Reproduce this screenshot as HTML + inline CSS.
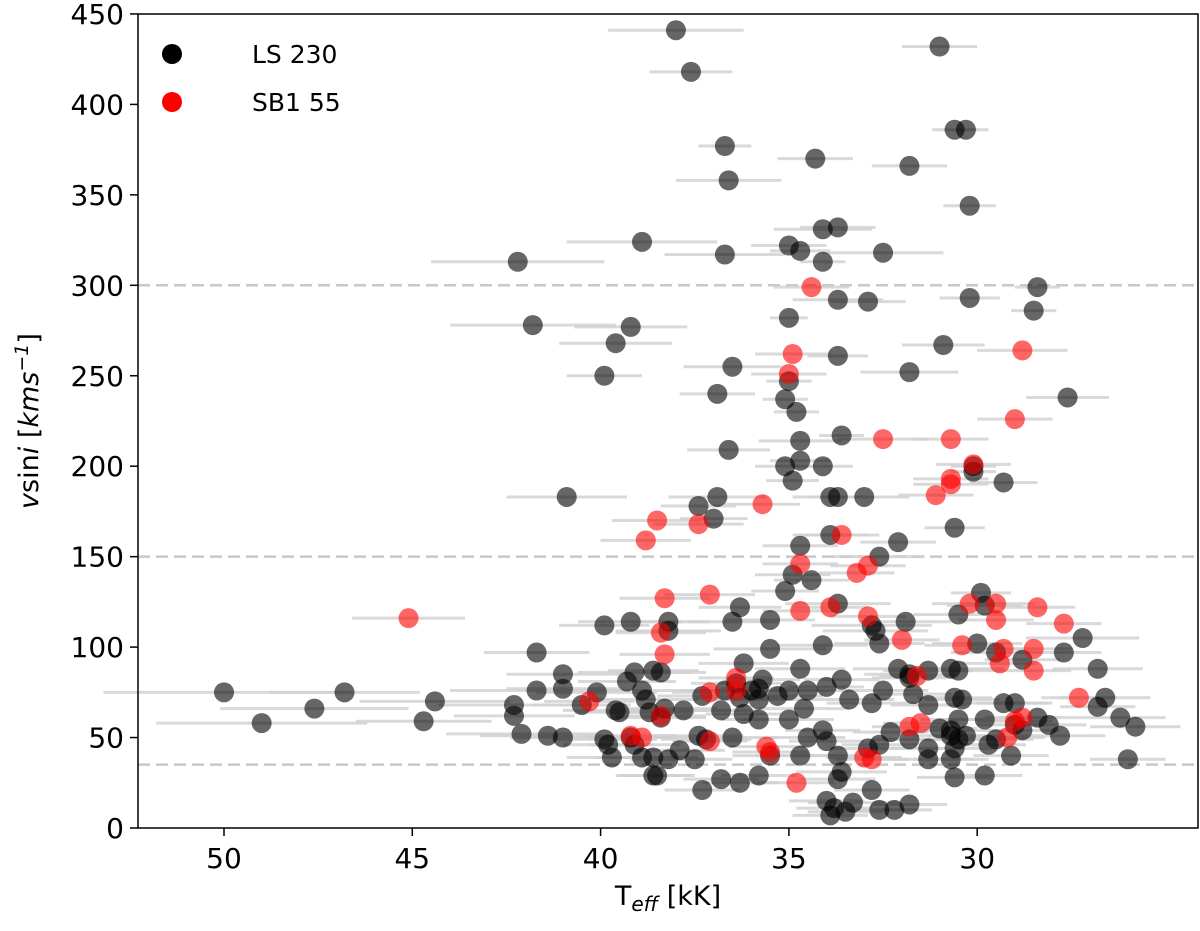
<!DOCTYPE html>
<html><head><meta charset="utf-8"><style>
body{margin:0;background:#fff;}
svg text{font-family:"DejaVu Sans","Liberation Sans",sans-serif;}
</style></head><body>
<svg id="chart" width="1200" height="926" viewBox="0 0 1200 926" xmlns="http://www.w3.org/2000/svg">
<g id="grid"></g>
<g id="errs"></g>
<g id="marks"></g>
<rect x="138" y="14" width="1060" height="814" fill="none" stroke="#000" stroke-width="1.5"/>
<g id="xticks"></g>
<g id="yticks"></g>
<text x="668" y="905" text-anchor="middle" font-size="27">T<tspan font-size="20" font-style="italic" dy="6">eff</tspan><tspan dy="-6"> [kK]</tspan></text>
<text transform="translate(38,421) rotate(-90)" text-anchor="middle" font-size="27"><tspan font-style="italic">v</tspan>sin<tspan font-style="italic">i</tspan> [<tspan font-style="italic">kms</tspan><tspan font-size="19" dy="-10" font-style="italic">−1</tspan><tspan dy="10">]</tspan></text>
<g>
<circle cx="172" cy="54" r="10" fill="#000"/>
<text x="252" y="63" font-size="25">LS 230</text>
<circle cx="172" cy="102" r="10" fill="#f00"/>
<text x="252" y="111" font-size="25">SB1 55</text>
</g>
</svg>
<script>
const xTicks=[50,45,40,35,30];
const yTicks=[0,50,100,150,200,250,300,350,400,450];
const refLines=[35,150,300];
// LS 230: [Teff kK, vsini, Teff error]
const lsTeff=[38.0,37.6,31.0,36.7,34.3,30.6,30.3,36.6,31.8,30.2,38.9,36.7,35.0,34.7,34.1,33.7,32.5,42.2,34.1,33.7,32.9,30.2,28.4,28.5,41.8,39.2,39.6,39.9,35.0,33.7,36.5,30.9,35.0,35.1,34.8,31.8,36.9,27.6,33.6,34.7,36.6,35.1,34.7,34.1,34.9,29.3,30.1,30.1,40.9,36.9,37.4,37.0,33.9,33.7,33.0,30.6,33.9,32.1,32.6,34.7,34.9,34.4,35.1,29.9,29.8,33.7,32.8,32.7,30.5,39.2,38.2,36.5,36.3,35.5,39.9,41.7,38.2,34.1,32.6,31.9,30.0,29.5,27.2,27.7,28.8,30.7,31.3,30.5,31.8,32.1,33.6,32.5,31.8,34.0,34.7,35.5,36.2,35.8,35.0,34.5,41.0,39.1,38.6,38.4,39.3,38.9,41.7,40.1,41.0,40.5,39.5,38.3,37.8,37.3,36.7,36.4,36.0,35.7,36.3,35.8,35.3,34.6,33.4,32.8,31.7,31.3,30.6,30.4,29.8,29.3,29.0,26.6,26.8,26.8,26.2,25.8,28.8,29.0,50.0,49.0,47.6,46.8,44.4,44.7,42.3,42.3,42.1,41.4,41.0,39.6,38.8,38.7,38.4,39.2,39.1,38.9,39.9,39.8,39.7,38.6,38.5,38.6,38.2,37.9,37.4,37.2,37.5,37.3,36.8,36.3,36.8,36.2,35.8,36.5,35.8,35.5,34.7,35.0,34.5,34.1,34.0,33.7,33.6,33.7,34.0,33.8,33.5,33.9,33.3,32.8,32.9,32.6,32.3,31.8,31.3,32.6,32.2,31.8,31.3,31.0,30.7,30.7,30.6,30.7,30.6,30.5,30.5,30.3,29.8,29.7,29.5,29.1,28.4,28.1,27.8,26.0];
const lsVsini=[441,418,432,377,370,386,386,358,366,344,324,317,322,319,331,332,318,313,313,292,291,293,299,286,278,277,268,250,282,261,255,267,247,237,230,252,240,238,217,214,209,200,203,200,192,191,200,197,183,183,178,171,183,183,183,166,162,158,150,156,140,137,131,130,123,124,112,109,118,114,114,114,122,115,112,97,109,101,102,114,102,97,105,97,93,88,87,87,85,88,82,76,83,78,88,99,91,77,76,76,85,86,87,86,81,76,76,75,77,68,64,66,65,73,76,80,76,82,72,71,73,66,71,69,74,68,72,71,60,69,69,72,88,67,61,56,54,57,75,58,66,75,70,59,68,62,52,51,50,65,71,64,61,50,46,39,49,46,39,39,29,29,38,43,51,49,38,21,27,25,65,63,60,50,29,40,40,60,50,54,48,40,31,27,15,11,9,7,14,21,44,46,53,49,44,10,10,13,38,55,51,38,28,54,44,49,60,51,29,46,49,40,61,57,51,38];
const lsErr=[1.8,1.1,1.0,0.7,1.0,0.6,0.6,1.4,1.0,0.7,2.0,1.6,1.0,0.8,1.3,1.0,1.6,2.3,0.6,1.2,1.0,0.8,0.6,0.6,2.2,1.5,1.5,1.0,0.5,0.8,1.3,1.1,0.6,0.6,0.6,1.3,1.0,1.1,0.6,1.1,1.1,0.8,0.8,0.8,0.7,0.9,0.6,0.6,1.6,1.3,1.0,0.9,1.0,0.8,1.2,0.8,1.0,1.0,1.2,1.0,1.0,1.0,0.9,0.8,1.0,1.4,1.6,1.4,1.2,1.4,1.1,1.2,1.1,1.2,1.2,1.4,1.4,1.2,1.2,1.2,1.2,1.2,1.5,1.0,1.0,1.4,1.2,1.0,1.2,1.2,1.0,1.2,1.0,1.0,1.2,1.5,1.2,1.0,1.0,1.2,1.5,1.5,1.2,1.2,1.3,1.4,2.3,1.6,1.5,1.3,1.2,1.4,1.5,1.2,1.2,1.2,1.2,1.0,1.2,1.2,1.2,1.2,1.2,1.2,1.0,1.0,1.0,1.0,1.2,1.2,1.0,1.2,1.2,1.0,1.2,1.2,1.0,1.0,3.2,2.8,2.5,2.0,2.0,1.8,2.0,1.6,2.0,1.8,1.4,1.4,1.4,1.2,1.2,1.2,1.2,1.2,1.4,1.2,1.2,1.2,1.0,1.0,1.0,1.2,1.2,1.2,1.0,1.0,1.0,1.0,1.0,1.0,1.0,1.2,1.0,1.0,1.2,1.2,1.0,1.0,1.0,1.0,1.2,1.0,1.0,1.0,1.0,1.0,1.2,1.0,1.0,1.0,1.0,1.0,1.0,1.0,1.0,1.0,1.2,1.0,1.0,1.0,1.0,1.2,1.0,1.0,1.0,1.0,1.0,1.0,1.0,1.0,1.0,1.0,1.2,1.0,1.0];
// SB1 55
const sbTeff=[34.4,34.9,35.0,32.5,30.7,30.7,30.7,31.1,29.0,28.8,30.1,38.5,38.8,35.7,37.4,33.6,34.7,33.2,32.9,37.1,38.3,33.9,32.9,30.2,29.5,28.4,27.7,29.5,32.0,30.4,29.3,29.4,28.5,28.5,45.1,38.4,38.3,36.4,37.1,36.4,31.6,31.5,31.8,40.3,38.9,39.2,38.4,37.1,35.5,35.6,34.7,32.8,33.0,29.2,28.8,29.0,27.3,34.8];
const sbVsini=[299,262,251,215,215,193,190,184,226,264,201,170,159,179,168,162,146,141,145,129,127,122,117,124,124,122,113,115,104,101,99,91,99,87,116,108,96,83,75,76,84,58,56,70,50,51,62,48,42,45,120,38,39,50,61,59,72,25];
const sbErr=[1.0,1.0,1.0,1.2,1.0,1.0,1.0,1.0,1.0,1.2,1.0,1.2,1.2,1.0,1.2,1.0,1.0,1.0,1.0,1.2,1.2,1.0,1.0,1.0,1.0,1.0,1.0,1.0,1.0,1.0,1.0,1.0,1.0,1.0,1.5,1.2,1.2,1.0,1.0,1.0,1.0,1.0,1.0,1.2,1.2,1.2,1.2,1.0,1.0,1.0,1.0,1.0,1.0,1.0,1.0,1.0,1.0,1.0];

const NS='http://www.w3.org/2000/svg';
const X0=138,X1=1198,Y0=828,Y1=14;
function xs(t){return 224+(50-t)*37.66;}
function ys(v){return 828-v*1.809;}
function mk(tag,attrs,parent){const e=document.createElementNS(NS,tag);for(const k in attrs)e.setAttribute(k,attrs[k]);parent.appendChild(e);return e;}
const grid=document.getElementById('grid'),errs=document.getElementById('errs'),marks=document.getElementById('marks');
const xg=document.getElementById('xticks'),yg=document.getElementById('yticks');
refLines.forEach(v=>{const l=mk('line',{x1:X0,x2:X1,y1:ys(v),y2:ys(v),stroke:'#c8c8c8','stroke-width':2.5,'stroke-dasharray':'12,6'},grid);

});
xTicks.forEach(t=>{const x=xs(t);const l=mk('line',{x1:x,x2:x,y1:Y0,y2:Y0+8,stroke:'#000','stroke-width':1.5},xg);


const tx=mk('text',{x:x,y:Y0+40,'text-anchor':'middle','font-size':28},xg);tx.textContent=t;

});
yTicks.forEach(v=>{const y=ys(v);const l=mk('line',{x1:X0-8,x2:X0,y1:y,y2:y,stroke:'#000','stroke-width':1.5},yg);


const tx=mk('text',{x:X0-14,y:y+10,'text-anchor':'end','font-size':28},yg);tx.textContent=v;

});
function series(T,V,E,color,name){
 for(let i=0;i<T.length;i++){
  const l=mk('line',{x1:xs(T[i]+E[i]),x2:xs(T[i]-E[i]),y1:ys(V[i]),y2:ys(V[i]),stroke:'#d0d0d0','stroke-width':3,'stroke-opacity':0.8},errs);
  
  
 }
 for(let i=0;i<T.length;i++){
  const c=mk('circle',{cx:xs(T[i]),cy:ys(V[i]),r:10,fill:color,'fill-opacity':0.6},marks);
  
  
 }
}
series(lsTeff,lsVsini,lsErr,'#000','ls230');
series(sbTeff,sbVsini,sbErr,'#f00','sb155');
</script>
</body></html>
